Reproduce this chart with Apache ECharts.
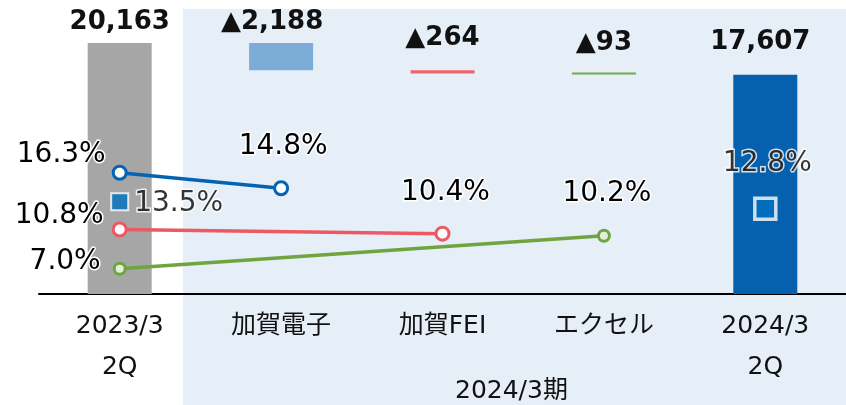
<!DOCTYPE html>
<html>
<head>
<meta charset="utf-8">
<script src="https://cdn.jsdelivr.net/npm/echarts@6/dist/echarts.min.js"></script>
<style>
  html, body { margin: 0; padding: 0; background: #fff; }
  #main { width: 846px; height: 405px; }
</style>
</head>
<body>
<div id="main"></div>
<script>
// 売上高ブリッジ（単位は元資料のまま）
const categories = ['2023/3\n2Q', '加賀電子', '加賀FEI', 'エクセル', '2024/3\n2Q'];
const startValue = 20163;
const changes = [2188, 264, 93];       // 減少分（▲）
const endValue = 17607;
const blueRate = [16.3, 14.8, '-', '-', '-'];
const redRate = [10.8, '-', 10.4, '-', '-'];
const greenRate = [7.0, '-', '-', 10.2, '-'];
const totalRate = [13.5, '-', '-', '-', 12.8];
const periodLabel = '2024/3期';

const FONT = 'DejaVu Sans, "Noto Sans CJK JP", sans-serif';
const barColors = ['#A6A6A6', '#7EACD8', '#EC6670', '#70AD47', '#0560AE'];

// 滝グラフ用の透明な土台
let running = startValue;
const baseData = [0];
const topData = [startValue];
changes.forEach(d => {
  running -= d;
  baseData.push(running);
  topData.push(d);
});
baseData.push(0);
topData.push(endValue);

// 棒ラベルの位置（上からの距離）
const barLabelDist = [8, 8, 19, 16, 19];
const barLabelOffX = [0, -9, 0, 0, -5];

const pct = v => v.toFixed(1) + '%';

const rateLabel = {
  show: true,
  fontFamily: FONT,
  fontSize: 28,
  color: '#000',
  textBorderColor: '#fff',
  textBorderWidth: 3,
  formatter: p => pct(p.value)
};

function withLabels(data, labels) {
  return data.map((v, i) => {
    if (v === '-') return '-';
    return { value: v, label: Object.assign({}, rateLabel, labels[i] || {}) };
  });
}

function rateLine(name, data, color, fill, size, labels) {
  return {
    name: name,
    type: 'line',
    yAxisIndex: 1,
    connectNulls: true,
    data: withLabels(data, labels),
    symbol: 'circle',
    symbolSize: size,
    z: 5,
    lineStyle: { color: color, width: 3.5 },
    itemStyle: { color: fill, borderColor: color, borderWidth: 3 }
  };
}

let chart = echarts.init(document.getElementById('main'), null, { renderer: 'canvas' });

let option = {
  animation: false,
  grid: { left: 39, right: -4, top: 20, bottom: 111 },
  graphic: [
    {
      type: 'rect',
      z: -10,
      silent: true,
      shape: { x: 183, y: 9, width: 663, height: 396 },
      style: { fill: '#E6EEF8' }
    },
    {
      type: 'text',
      z: 10,
      left: 519 - 64,
      top: 379,
      style: { text: periodLabel, font: '25px ' + FONT, fill: '#111' }
    }
  ],
  xAxis: {
    type: 'category',
    data: categories,
    axisLine: { lineStyle: { color: '#000', width: 2 } },
    axisTick: { show: false },
    axisLabel: {
      margin: 12,
      fontFamily: FONT,
      fontSize: 25,
      lineHeight: 41,
      color: '#111'
    }
  },
  yAxis: [
    { type: 'value', min: 0, max: 22000, show: false, splitLine: { show: false } },
    { type: 'value', min: 4.55, max: 31.1, show: false, splitLine: { show: false } }
  ],
  series: [
    {
      name: 'base',
      type: 'bar',
      stack: 'wf',
      barWidth: 64,
      silent: true,
      itemStyle: { color: 'transparent' },
      data: baseData
    },
    {
      name: 'value',
      type: 'bar',
      stack: 'wf',
      barWidth: 64,
      barMinHeight: 2,
      data: topData.map((v, i) => ({
        value: v,
        itemStyle: { color: barColors[i] },
        label: {
          show: true,
          position: 'top',
          distance: barLabelDist[i],
          offset: [barLabelOffX[i], 0],
          fontFamily: FONT,
          fontSize: 26,
          fontWeight: 'bold',
          color: '#111',
          formatter: (i === 0 || i === topData.length - 1)
            ? v.toLocaleString('en-US')
            : '▲' + v.toLocaleString('en-US')
        }
      }))
    },
    rateLine('blue', blueRate, '#0563B4', '#fff', 13, [
      { position: 'left', distance: 6, offset: [0, -18] },
      { position: 'top', distance: 19, offset: [2, 0] }
    ]),
    rateLine('red', redRate, '#EB5A64', '#fff', 13, [
      { position: 'left', distance: 8, offset: [0, -14] },
      null,
      { position: 'top', distance: 19, offset: [3, 0] }
    ]),
    rateLine('green', greenRate, '#6FA43F', '#E2F0D9', 11, [
      { position: 'left', distance: 12, offset: [0, -7] },
      null, null,
      { position: 'top', distance: 21, offset: [3, 0] }
    ]),
    {
      name: 'total',
      type: 'scatter',
      yAxisIndex: 1,
      symbol: 'rect',
      z: 6,
      data: totalRate.map((v, i) => {
        if (v === '-') return '-';
        const first = i === 0;
        return {
          value: v,
          symbolSize: first ? 17 : 21,
          itemStyle: { color: '#0070C0', borderColor: '#fff', borderWidth: first ? 2 : 3.5 },
          label: Object.assign({}, rateLabel, first
            ? { position: 'right', distance: 5, offset: [0, 2] }
            : { position: 'top', distance: 19, offset: [2, 0] })
        };
      })
    }
  ]
};

chart.setOption(option);
</script>
</body>
</html>
